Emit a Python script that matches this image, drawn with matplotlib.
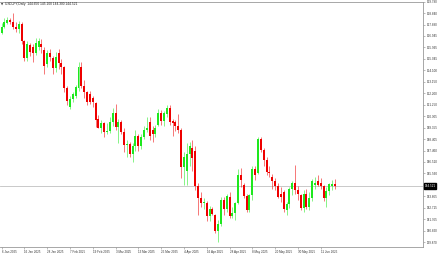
import matplotlib
matplotlib.use("Agg")
import matplotlib.pyplot as plt
import matplotlib.transforms as mtransforms

# ---- data (USDJPY daily) ----
opens = [157.2,157.7,158.0,158.3,158.1,157.7,157.5,157.9,156.5,155.1,
         156.2,156.0,155.5,156.0,156.3,155.8,154.6,155.5,155.1,154.3,
         155.5,154.7,154.4,152.6,151.1,151.7,152.0,152.6,154.4,152.8,
         152.3,152.1,151.8,151.4,150.1,149.3,149.7,149.0,149.1,149.8,
         150.6,149.4,149.8,149.0,147.9,148.0,147.2,147.8,148.7,147.8,
         148.6,149.2,149.8,149.2,148.8,149.6,150.6,149.9,150.5,151.0,
         149.9,149.8,149.5,149.2,146.1,145.8,147.2,147.7,147.4,144.5,
         143.5,143.1,143.1,142.0,142.6,142.1,140.8,141.4,143.4,142.6,
         143.6,142.0,142.3,143.1,145.4,144.6,143.7,142.5,143.8,145.9,
         145.6,148.4,147.5,146.7,145.7,145.3,144.9,144.5,143.9,144.0,
         142.5,143.0,144.3,144.8,144.2,143.8,142.7,143.9,142.8,143.5,
         144.6,144.9,144.8,144.5,143.5,144.1,144.5,144.65]
highs = [158.0,158.4,158.55,158.4,158.87,158.1,158.2,158.1,156.6,156.5,
         156.4,156.3,156.8,156.8,156.7,156.0,155.8,155.9,155.3,155.6,
         155.9,155.0,154.5,152.8,152.0,152.3,152.9,154.8,154.8,153.3,
         152.4,152.4,152.0,151.5,150.4,150.0,149.8,149.7,150.2,151.0,
         151.3,150.1,150.0,149.3,148.3,148.2,148.1,149.2,148.8,148.8,
         149.5,150.2,150.2,149.5,149.6,150.9,150.8,150.7,151.2,151.2,
         150.1,150.0,150.5,149.3,147.3,148.1,148.2,148.3,147.8,144.8,
         144.0,143.5,143.3,142.9,142.8,142.2,141.7,143.6,143.6,143.9,
         144.0,142.8,143.2,145.9,146.0,144.8,143.9,143.9,146.2,146.2,
         148.6,148.6,147.7,146.9,146.2,145.5,145.2,144.8,144.4,144.2,
         143.2,144.4,144.9,146.3,144.5,143.9,144.2,144.3,144.0,145.1,
         145.3,145.4,145.2,144.6,144.4,144.8,145.0,145.1]
lows = [157.1,157.6,157.9,157.9,157.5,157.3,157.2,156.3,154.9,154.9,
        155.3,154.8,155.4,155.8,155.5,153.8,154.4,154.9,153.8,154.0,
        154.2,153.8,152.3,151.2,150.9,151.5,151.8,152.4,152.6,151.8,
        151.2,151.3,151.1,149.4,149.3,148.9,148.6,148.8,148.9,149.5,
        149.2,148.1,148.8,147.3,146.9,146.9,146.5,147.4,147.4,147.6,
        148.4,149.0,148.3,148.2,148.6,149.5,149.6,149.5,150.2,149.6,
        148.7,149.1,148.9,145.2,144.6,144.6,146.2,145.8,144.2,142.1,
        142.8,142.6,141.6,141.6,142.1,140.6,139.9,141.2,142.1,142.4,
        141.9,141.9,141.7,143.0,144.4,143.5,142.4,142.4,143.4,145.0,
        145.5,147.3,146.2,145.4,145.3,144.3,144.2,143.5,143.2,142.4,
        142.1,142.7,143.8,143.9,143.4,142.5,142.4,142.6,142.5,143.3,
        144.3,144.5,144.3,143.3,142.8,143.8,144.2,144.3]
closes = [157.7,158.1,158.3,158.1,157.7,157.5,157.9,156.5,155.1,156.3,
          155.6,155.5,156.4,156.5,156.0,154.5,155.5,155.2,154.3,155.2,
          154.7,154.4,152.6,151.6,151.7,152.1,152.7,154.4,152.8,152.3,
          151.5,151.5,151.5,150.0,149.3,149.7,149.0,149.1,149.8,150.6,
          149.4,149.8,149.0,147.9,148.0,147.2,147.8,148.7,147.8,148.6,
          149.2,149.3,148.7,148.8,149.3,150.6,149.9,150.6,151.0,149.8,
          149.7,149.5,149.2,146.1,146.9,147.2,147.8,146.8,144.5,143.5,
          143.1,143.2,142.0,142.6,142.2,140.8,141.4,143.4,142.6,143.7,
          142.0,142.3,143.1,145.4,145.0,143.7,142.5,143.8,145.9,145.4,
          148.4,147.5,146.7,145.7,145.6,144.9,144.5,143.6,143.6,142.6,
          143.0,144.3,144.8,144.2,143.9,142.7,143.9,142.8,143.5,144.9,
          144.8,144.6,144.5,143.5,144.1,144.7,144.65,144.521]

x_tick_idx = [0, 8, 16, 24, 32, 40, 48, 56, 64, 72, 80, 88, 96, 104, 112]
x_tick_labels = ["6 Jan 2025", "16 Jan 2025", "28 Jan 2025", "7 Feb 2025",
                 "19 Feb 2025", "3 Mar 2025", "13 Mar 2025", "25 Mar 2025",
                 "4 Apr 2025", "16 Apr 2025", "28 Apr 2025", "8 May 2025",
                 "20 May 2025", "30 May 2025", "11 Jun 2025"]
y_ticks = [159.790, 158.840, 157.890, 156.945, 155.995, 155.045, 154.100,
           153.150, 152.200, 151.250, 150.305, 149.355, 148.405, 147.460,
           146.510, 145.560, 143.665, 142.715, 141.765, 140.820, 139.870]
current_price = 144.521
title = "USDJPY,Daily  144.650 145.100 144.300 144.521"

# ---- figure ----
W, H = 440, 254
fig = plt.figure(figsize=(W / 100, H / 100), dpi=100)
ax_left, ax_right, ax_top, ax_bot = 0.0, 423, 1.5, 247
ax = fig.add_axes([ax_left / W, 1 - ax_bot / H, (ax_right - ax_left) / W,
                   (ax_bot - ax_top) / H])

UP = "#1ee81e"
DN = "#ee0000"
idx = list(range(len(opens)))
for i in idx:
    o, h, l, c = opens[i], highs[i], lows[i], closes[i]
    col = UP if c >= o else DN
    ax.vlines(i, l, h, color=col, linewidth=0.5, alpha=0.75)
    b = min(o, c)
    hh = max(abs(c - o), 0.04)
    ax.bar(i, hh, bottom=b, width=0.7, color=col, edgecolor="none")

ax.axhline(current_price, color="#c0c0c0", linewidth=0.6, zorder=0)

ax.set_xlim(-0.55, 147.9)
ax.set_ylim(139.47, 159.80)

font = "Liberation Sans"
ax.yaxis.tick_right()
ax.set_yticks(y_ticks)
ax.set_yticklabels([f"{v:.3f}" for v in y_ticks], fontsize=2.2,
                   family=font, color="#333333")
ax.tick_params(axis="y", length=1.5, width=0.4, pad=1.2, color="#888888")

ax.set_xticks(x_tick_idx)
ax.set_xticklabels(x_tick_labels, fontsize=2.2, family=font, color="#333333")
for lab in ax.get_xticklabels():
    lab.set_horizontalalignment("left")
ax.tick_params(axis="x", length=1.5, width=0.4, pad=0.8, color="#888888")

for s in ["top", "right", "bottom"]:
    ax.spines[s].set_color("#999999")
    ax.spines[s].set_linewidth(0.6)
ax.spines["left"].set_visible(False)

trans = mtransforms.blended_transform_factory(ax.transAxes, ax.transData)
ax.text(1.004, current_price, f"{current_price:.3f}", transform=trans,
        fontsize=2.2, family=font, color="white", va="center", ha="left",
        bbox=dict(boxstyle="square,pad=0.25", facecolor="black",
                  edgecolor="black"), clip_on=False)

fig.text(1 / W, 1 - 4.5 / H, "▼", fontsize=2.0, color="#333333",
         va="center", ha="left")
fig.text(5 / W, 1 - 4.5 / H, title, fontsize=2.3, family=font,
         color="#222222", va="center", ha="left")

fig.savefig("out.png", dpi=100)
